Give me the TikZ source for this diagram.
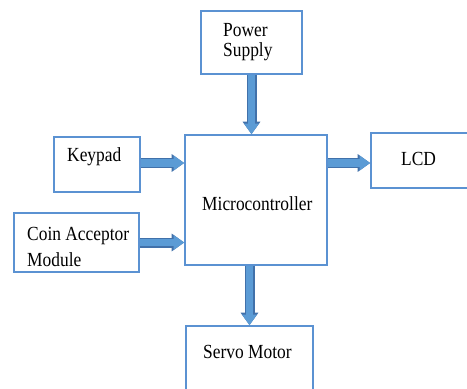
\documentclass[tikz,border=0pt]{standalone}
\usepackage{fontspec}
\setmainfont[FakeStretch=0.87]{Liberation Serif}
\usetikzlibrary{arrows.meta}
\definecolor{boxblue}{RGB}{91,146,210}
\definecolor{arrowfill}{RGB}{91,155,213}
\definecolor{arrowedge}{RGB}{65,113,170}
\tikzset{
  block/.style={draw=boxblue, line width=1.6pt, fill=white, inner sep=0pt},
  label/.style={anchor=base west, inner sep=0pt, font=\fontsize{20}{22}\selectfont},
  fatarrow/.style={draw=arrowfill, line width=7.5pt,
    -{Triangle[width=14pt,length=10.5pt]},
    preaction={draw=arrowedge, line width=10pt,
      -{Triangle[width=17pt,length=12.5pt]}}}
}
\begin{document}
\begin{tikzpicture}[x=1pt,y=-1pt]
  \useasboundingbox (0,0) rectangle (467,389);
  \clip (0,0) rectangle (467,389);

  % blocks
  \node[block, minimum width=101pt, minimum height=63pt] (ps)    at (251.5,42.5) {};
  \node[block, minimum width=86pt,  minimum height=55pt] (kp)    at (97,164.5)   {};
  \node[block, minimum width=125pt, minimum height=59pt] (coin)  at (76.5,242.5) {};
  \node[block, minimum width=142pt, minimum height=130pt] (mc)   at (256,200)    {};
  \node[block, minimum width=200pt, minimum height=55pt] (lcd)   at (471,160.5)  {};
  \node[block, minimum width=127pt, minimum height=90pt] (servo) at (249.5,371)  {};

  % labels
  \node[label] (psA)   at (223,36.7)  {Power};
  \node[label] (psB)   at (223,56.7)  {Supply};
  \node[label] (kpA)   at (67,161.7)  {Keypad};
  \node[label] (coinA) at (27,240)    {Coin Acceptor};
  \node[label] (coinB) at (27,266)    {Module};
  \node[label] (mcA)   at (202,210)   {Microcontroller};
  \node[label] (lcdA)  at (401,165.7) {LCD};
  \node[label] (svA)   at (203,358.3) {Servo Motor};

  % signal flow
  \draw[fatarrow] (ps.south) -- (ps.south |- mc.north);
  \draw[fatarrow] ([yshift=1.5pt]kp.east) -- ([yshift=1.5pt]kp.east -| mc.west);
  \draw[fatarrow] (coin.east) -- (coin.east -| mc.west);
  \draw[fatarrow] ([yshift=-2.5pt]lcd.west -| mc.east) -- ([yshift=-2.5pt]lcd.west);
  \draw[fatarrow] (servo.north |- mc.south) -- (servo.north);
\end{tikzpicture}
\end{document}
